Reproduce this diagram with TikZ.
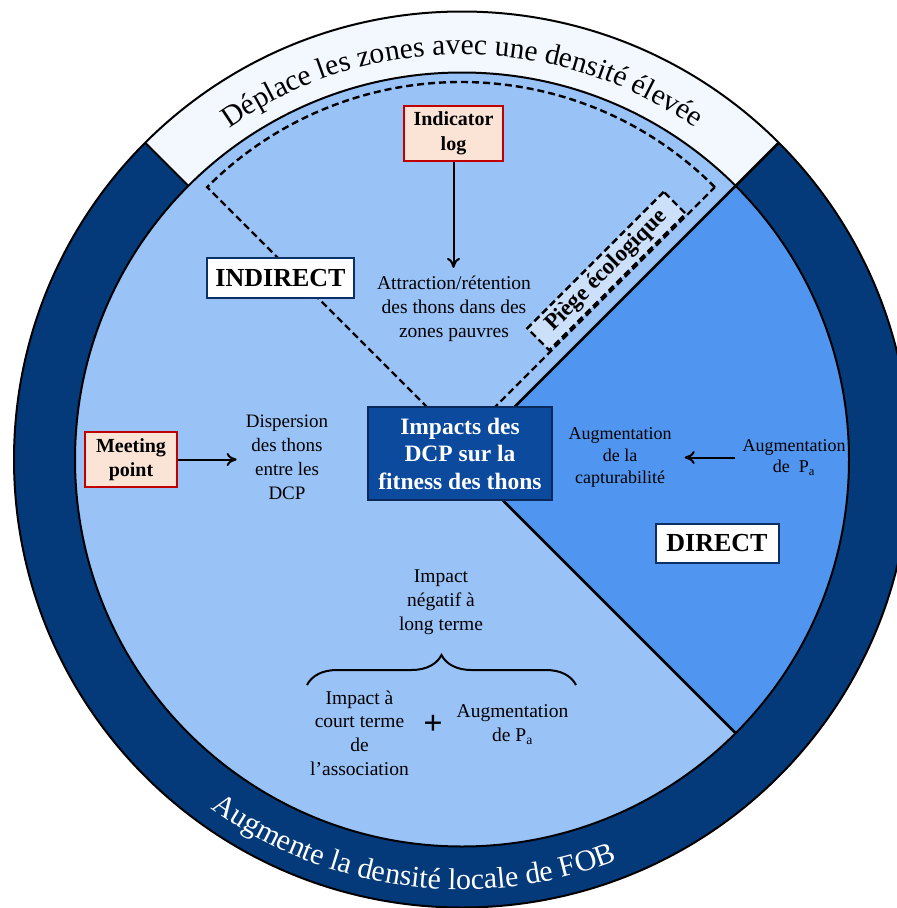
\documentclass[tikz,border=0pt]{standalone}
\usepackage{fontspec}
\setmainfont{Liberation Serif}
\usetikzlibrary{arrows.meta,decorations.text,decorations.pathreplacing,calc}

\definecolor{ringdark}{RGB}{5,58,122}
\definecolor{ringlight}{RGB}{243,248,254}
\definecolor{diskblue}{RGB}{153,194,247}
\definecolor{directblue}{RGB}{80,150,240}
\definecolor{centerfill}{RGB}{12,74,158}
\definecolor{centerborder}{RGB}{10,40,90}
\definecolor{piegefill}{RGB}{204,224,250}
\definecolor{labelborder}{RGB}{10,48,102}
\definecolor{peach}{RGB}{251,228,214}
\definecolor{redborder}{RGB}{192,0,0}

\tikzset{
  bodytext/.style={align=center, inner sep=0pt, font=\fontsize{19.5}{24}\selectfont},
  smalltext/.style={align=center, inner sep=0pt, font=\fontsize{18}{22}\selectfont},
  labelbox/.style={draw=labelborder, fill=white, line width=2pt, inner sep=0pt,
    font=\bfseries\fontsize{26}{30}\selectfont},
  redbox/.style={draw=redborder, fill=peach, line width=2pt, align=center, inner sep=0pt,
    font=\bfseries\fontsize{20}{24.5}\selectfont},
  dashline/.style={line width=2.4pt, dash pattern=on 7pt off 4pt},
  arrowline/.style={line width=2pt, -{To[length=10pt,width=13pt]}},
  outline/.style={line width=2pt},
}

\begin{document}
\begin{tikzpicture}[x=1pt,y=1pt]
\path[use as bounding box] (0,0) rectangle (897,-908);
\clip (0,0) rectangle (897,-908);

\coordinate (C) at (462,-459.5);
\coordinate (V) at (461,-441);

% outer ring
\fill[ringdark] (C) circle[radius=448];
\fill[ringlight] ($(C)+(45:448)$) arc[start angle=45,end angle=135,radius=448]
  -- ($(C)+(135:387)$) arc[start angle=135,end angle=45,radius=387] -- cycle;
\draw[outline] (C) circle[radius=448];

% inner disk
\fill[diskblue] (C) circle[radius=387];
\fill[directblue] (C) -- ($(C)+(-45:387)$) arc[start angle=-45,end angle=45,radius=387] -- cycle;
\draw[outline] (C) circle[radius=387];
\draw[line width=2.6pt] (C) -- ($(C)+(45:448)$);
\draw[line width=2.6pt] (C) -- ($(C)+(-45:387)$);
\draw[outline] ($(C)+(135:387)$) -- ($(C)+(135:448)$);

% dashed indirect sector
\draw[dashline] ($(V)+(45:359)$) arc[start angle=45,end angle=135,radius=359] -- (V) -- cycle;

% curved texts
\path[decorate, decoration={text along path, text align=center,
  text={|\fontsize{29.5}{34}\selectfont|Déplace les zones avec une densité élevée}}]
  ($(C)+(130:405)$) arc[start angle=130,end angle=50,radius=405];
\path[decorate, decoration={text along path, text align=center, text color=white,
  text={|\fontsize{30}{35}\selectfont|Augmente la densité locale de FOB}}]
  ($(C)+(222.7:430)$) arc[start angle=222.7,end angle=302.7,radius=430];

% central box
\node[draw=centerborder, fill=centerfill, line width=2.5pt, minimum width=184pt, minimum height=93pt,
  text=white, align=center, inner sep=0pt, font=\bfseries\fontsize{23.5}{27.5}\selectfont]
  (center) at (460,-453.5) {Impacts des\\DCP sur la\\fitness des thons};

% labels
\node[labelbox, minimum width=147pt, minimum height=40pt] (indirect) at (280.5,-278) {INDIRECT};
\node[labelbox, minimum width=123pt, minimum height=39pt] (direct) at (717,-543) {DIRECT};
\node[draw, dashline, fill=piegefill, rotate=45, minimum width=193pt, minimum height=31pt,
  inner sep=0pt, font=\bfseries\fontsize{23}{26}\selectfont] (piege) at (606.5,-271) {Piège écologique};

% red boxes
\node[redbox, minimum width=99pt, minimum height=55pt] (indicator) at (453.5,-133.5) {Indicator\\log};
\node[redbox, minimum width=92pt, minimum height=55pt] (meeting) at (131,-459.5) {Meeting\\point};

% texts
\node[bodytext] (attr) at (454,-309) {Attraction/rétention\\des thons dans des\\zones pauvres};
\node[align=center, inner sep=0pt, font=\fontsize{19}{24}\selectfont] (disp) at (287,-457) {Dispersion\\des thons\\entre les\\DCP};
\node[smalltext] (capt) at (620,-457) {Augmentation\\de la\\capturabilité};
\node[align=center, inner sep=0pt, font=\fontsize{18}{21.5}\selectfont] (augR) at (794,-457.5) {Augmentation\\de\hspace{0.5em}P\textsubscript{a}};
\node[bodytext] (impneg) at (441,-602) {Impact\\négatif à\\long terme};
\node[align=center, inner sep=0pt, font=\fontsize{19.5}{23.7}\selectfont] (impcourt) at (359.5,-733) {Impact à\\court terme\\de\\l’association};
\node[inner sep=0pt, font=\bfseries\fontsize{34}{34}\selectfont] (plus) at (433,-725) {+};
\node[bodytext] (augB) at (512.5,-725) {Augmentation\\de P\textsubscript{a}};

% brace
\coordinate (bl) at (307,-685);
\coordinate (br) at (576,-685);
\draw[line width=2pt, decorate, decoration={brace, amplitude=30pt}] (bl) -- (br);

% arrows
\draw[arrowline, shorten >=8pt] (indicator.south) -- (indicator.south |- attr.north);
\draw[arrowline, shorten >=9pt] (meeting.east) -- (meeting.east -| disp.west);
\draw[arrowline, shorten <=7pt, shorten >=13pt] (augR.west) -- (augR.west -| capt.east);
\end{tikzpicture}
\end{document}
